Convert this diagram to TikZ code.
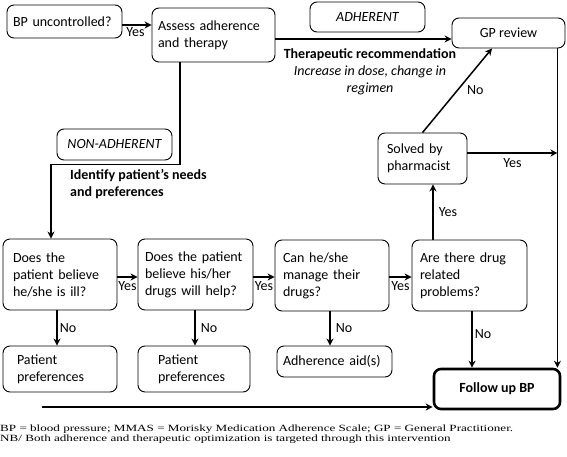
\documentclass[tikz,border=0pt]{standalone}
\usepackage{fontspec}
\usepackage{graphicx}
\setmainfont{Carlito}
\newfontfamily\footfont{Liberation Serif}
\usetikzlibrary{arrows.meta}
\hyphenpenalty=10000
\exhyphenpenalty=10000
\begin{document}
\begin{tikzpicture}[x=1pt,y=-1pt,
  box/.style={draw,rounded corners=7pt,line width=0.9pt,font=\fontsize{14}{17}\selectfont,align=left,inner ysep=0pt},
  cbox/.style={draw,rounded corners=7pt,line width=0.9pt,font=\fontsize{14}{17}\selectfont,align=center,inner sep=0pt},
  arr/.style={line width=1.5pt,-{Stealth[length=7pt,width=7pt]}},
  lbl/.style={font=\fontsize{14}{17}\selectfont,inner sep=1pt}]
\useasboundingbox (0,0) rectangle (567,457);
% boxes
\node[box,minimum height=33pt,text width=103pt,inner xsep=6pt] (bp) at (64.5,21.5) {BP uncontrolled?};
\node[box,minimum height=54pt,text width=111pt,inner xsep=6pt] (assess) at (213.5,35) {Assess adherence\\and therapy};
\node[cbox,minimum width=115pt,minimum height=30pt,font=\fontsize{14}{17}\selectfont\itshape] (adh) at (367.5,17) {ADHERENT};
\node[cbox,minimum width=113pt,minimum height=30pt] (gp) at (508.5,33) {GP review};
\node[cbox,minimum width=115pt,minimum height=31pt,font=\fontsize{14}{17}\selectfont\itshape] (nonadh) at (114.5,144.5) {NON-ADHERENT};
\node[box,minimum height=51pt,text width=71pt,inner xsep=9pt] (solved) at (422.5,158.5) {Solved by\\pharmacist};
\node[box,minimum height=71pt,text width=94pt,inner xsep=10pt] (q1) at (60,274.5) {Does the\\patient believe\\he/she is ill?};
\node[box,minimum height=71pt,text width=101pt,inner xsep=7pt] (q2) at (195.5,274.5) {Does the patient\\believe his/her\\drugs will help?};
\node[box,minimum height=71pt,text width=98pt,inner xsep=8pt] (q3) at (332,275.5) {Can he/she\\manage their\\drugs?};
\node[box,minimum height=71pt,text width=99pt,inner xsep=8pt] (q4) at (469.5,275.5) {Are there drug\\related\\problems?};
\node[box,minimum height=46pt,text width=86pt,inner xsep=14pt] (pp1) at (60,369) {Patient\\preferences};
\node[box,minimum height=46pt,text width=72pt,inner xsep=20pt] (pp2) at (194,369) {Patient\\preferences};
\node[box,minimum height=31pt,text width=103pt,inner xsep=6pt] (aid) at (334.5,361.5) {Adherence aid(s)};
\node[cbox,minimum width=126pt,minimum height=40pt,line width=2.6pt,font=\fontsize{14}{17}\selectfont\bfseries] (follow) at (497,389) {Follow up BP};
% free texts
\node[lbl,align=center] (ther) at (370,72) {\textbf{Therapeutic recommendation}\\\textit{Increase in dose, change in}\\\textit{regimen}};
\node[lbl,align=left,anchor=west,font=\fontsize{14}{17}\selectfont\bfseries] (ident) at (69,184.5) {Identify patient’s needs\\and preferences};
% connectors
\draw[arr] ([yshift=-3.5pt]bp.east) -- ([yshift=-3.5pt]bp.east -| assess.west) node[lbl,pos=0.45,below=1pt] {Yes};
\draw[arr] ([yshift=-4pt]assess.east) -- ([yshift=-4pt]assess.east -| gp.west);
\coordinate (rl) at ([xshift=-8pt]gp.south east);
\draw[arr] (rl) -- (rl |- follow.north);
\draw[arr] (solved.north) -- ([xshift=-16.5pt]gp.south) node[lbl,pos=0.5,right=8pt] {No};
\draw[arr] ([yshift=5.5pt]solved.east) -- ([yshift=5.5pt]solved.east -| rl) node[lbl,pos=0.5,below=4pt] {Yes};
\draw[arr] ([xshift=-33.5pt]assess.south) -- ++(0,102) -| ([xshift=-9pt]q1.north);
\draw[arr] ([yshift=-2.5pt]q1.east) -- ([yshift=-2.5pt]q1.east -| q2.west) node[lbl,pos=0.5,below=3pt] {Yes};
\draw[arr] ([yshift=-2.5pt]q2.east) -- ([yshift=-2.5pt]q2.east -| q3.west) node[lbl,pos=0.5,below=3pt] {Yes};
\draw[arr] ([yshift=-1.5pt]q3.east) -- ([yshift=-1.5pt]q3.east -| q4.west) node[lbl,pos=0.5,below=3pt] {Yes};
\draw[arr] ([xshift=-36.5pt]q4.north) -- ([xshift=-36.5pt]q4.north |- solved.south) node[lbl,pos=0.5,right=4pt] {Yes};
\draw[arr] ([xshift=-3pt]q1.south) -- ([xshift=-3pt]q1.south |- pp1.north) node[lbl,pos=0.5,right=1pt] {No};
\draw[arr] ([xshift=-0.5pt]q2.south) -- ([xshift=-0.5pt]q2.south |- pp2.north) node[lbl,pos=0.5,right=4pt] {No};
\draw[arr] ([xshift=-2pt]q3.south) -- ([xshift=-2pt]q3.south |- aid.north) node[lbl,pos=0.5,right=4pt] {No};
\draw[arr] ([xshift=2.5pt]q4.south) -- ([xshift=2.5pt]q4.south |- follow.north) node[lbl,pos=0.4,right=1pt] {No};
\coordinate (bs) at (42,407);
\draw[arr] (bs) -- (bs -| follow.west);
% footnote
\node[anchor=north west,inner sep=0pt,align=left,font=\footfont\fontsize{9.5}{9.5}\selectfont] (foot) at (0,425) {\scalebox{1.38}[1]{BP = blood pressure; MMAS = Morisky Medication Adherence Scale; GP = General Practitioner.}\\\scalebox{1.38}[1]{NB/ Both adherence and therapeutic optimization is targeted through this intervention}};
\end{tikzpicture}
\end{document}
